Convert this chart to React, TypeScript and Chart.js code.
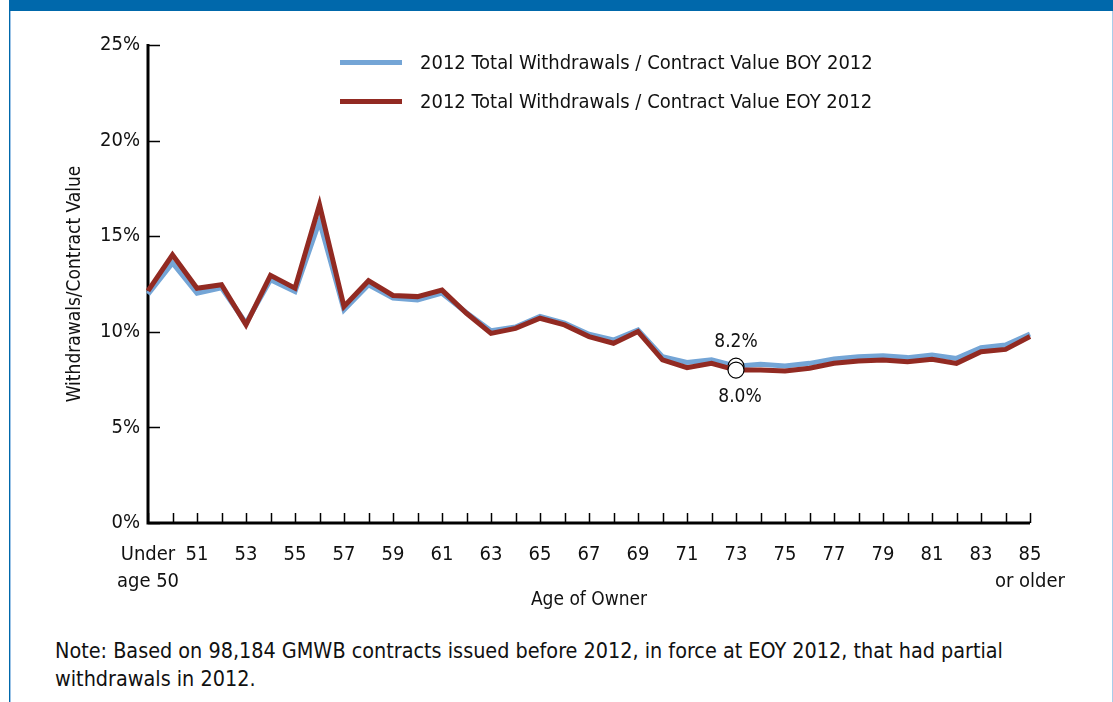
import React, { useEffect, useRef } from "react";
import { Chart, registerables } from "chart.js";
Chart.register(...registerables);

const FONT = "'Liberation Sans Narrow', 'DejaVu Sans Condensed', 'Arial Narrow', sans-serif";

const categories: string[] = [
  "Under age 50", "50", "51", "52", "53", "54", "55", "56", "57", "58", "59", "60",
  "61", "62", "63", "64", "65", "66", "67", "68", "69", "70", "71", "72", "73",
  "74", "75", "76", "77", "78", "79", "80", "81", "82", "83", "84", "85 or older",
];

const boyValues: number[] = [
  11.97, 13.6, 12.02, 12.3, 10.45, 12.72, 12.1, 15.78, 11.15, 12.46, 11.76, 11.67,
  12.02, 11.0, 10.05, 10.25, 10.8, 10.45, 9.87, 9.57, 10.1, 8.7, 8.4, 8.53, 8.2,
  8.3, 8.21, 8.35, 8.58, 8.7, 8.75, 8.65, 8.79, 8.61, 9.17, 9.31, 9.89,
];

const eoyValues: number[] = [
  12.14, 14.03, 12.28, 12.46, 10.36, 12.95, 12.28, 16.65, 11.32, 12.67, 11.9, 11.84,
  12.18, 10.97, 9.92, 10.18, 10.71, 10.36, 9.75, 9.4, 10.01, 8.53, 8.12, 8.35, 8.0,
  8.0, 7.95, 8.09, 8.35, 8.47, 8.53, 8.44, 8.56, 8.35, 8.96, 9.08, 9.75,
];

const yTickValues: number[] = [0, 5, 10, 15, 20, 25];

const seriesNames: string[] = [
  "2012 Total Withdrawals / Contract Value BOY 2012",
  "2012 Total Withdrawals / Contract Value EOY 2012",
];

const highlightIndex = 24; // age 73

const BLUE = "#74a5d6";
const RED = "#922a22";

function tickLabel(i: number): string | string[] {
  if (i % 2 !== 0) return "";
  const c = categories[i];
  if (c === "Under age 50") return ["Under", "age 50"];
  if (c === "85 or older") return ["85", "or older"];
  return c;
}

const decorPlugin = {
  id: "decor",
  beforeDatasetsDraw(chart: any) {
    const { ctx, chartArea, scales } = chart;
    const xs = scales.x;
    const ys = scales.y;
    ctx.save();
    ctx.strokeStyle = "#000";
    ctx.lineWidth = 1.5;
    ctx.beginPath();
    for (const v of yTickValues) {
      const y = Math.round(ys.getPixelForValue(v)) + 0.5;
      ctx.moveTo(chartArea.left, y);
      ctx.lineTo(chartArea.left + 12, y);
    }
    for (let i = 0; i < categories.length; i++) {
      const x = Math.round(xs.getPixelForValue(i)) + 0.5;
      ctx.moveTo(x, chartArea.bottom);
      ctx.lineTo(x, chartArea.bottom - 10);
    }
    ctx.stroke();
    ctx.lineWidth = 3;
    ctx.beginPath();
    ctx.moveTo(chartArea.left, ys.getPixelForValue(25) - 1);
    ctx.lineTo(chartArea.left, chartArea.bottom);
    ctx.lineTo(xs.getPixelForValue(categories.length - 1), chartArea.bottom);
    ctx.stroke();
    ctx.restore();
  },
  afterDatasetsDraw(chart: any) {
    const { ctx, scales } = chart;
    const x = scales.x.getPixelForValue(highlightIndex);
    const yb = scales.y.getPixelForValue(boyValues[highlightIndex]);
    const ye = scales.y.getPixelForValue(eoyValues[highlightIndex]);
    ctx.save();
    ctx.fillStyle = "#111";
    ctx.font = `19px ${FONT}`;
    ctx.textAlign = "center";
    ctx.textBaseline = "middle";
    ctx.fillText(boyValues[highlightIndex].toFixed(1) + "%", x, yb - 24);
    ctx.fillText(eoyValues[highlightIndex].toFixed(1) + "%", x + 4, ye + 27);
    ctx.restore();
  },
};

export default function App() {
  const ref = useRef<HTMLCanvasElement | null>(null);

  useEffect(() => {
    if (!ref.current) return;
    const radius = (i: number) => (i === highlightIndex ? 8 : 0);
    const chart = new Chart(ref.current, {
      type: "line",
      data: {
        labels: categories,
        datasets: [
          {
            label: seriesNames[1],
            data: eoyValues,
            borderColor: RED,
            borderWidth: 5,
            pointRadius: categories.map((_, i) => radius(i)),
            pointBackgroundColor: "#fff",
            pointBorderColor: "#000",
            pointBorderWidth: 1.2,
            tension: 0,
            borderJoinStyle: "miter",
          },
          {
            label: seriesNames[0],
            data: boyValues,
            borderColor: BLUE,
            borderWidth: 5,
            pointRadius: categories.map((_, i) => radius(i)),
            pointBackgroundColor: "#fff",
            pointBorderColor: "#000",
            pointBorderWidth: 1.2,
            tension: 0,
            borderJoinStyle: "miter",
          },
        ],
      },
      options: {
        responsive: false,
        animation: false,
        devicePixelRatio: 1,
        layout: { padding: { top: 45, right: 83, left: 0, bottom: 0 } },
        plugins: {
          legend: { display: false },
          tooltip: { enabled: false },
        },
        scales: {
          x: {
            type: "category",
            offset: false,
            border: { display: false },
            grid: { display: false, drawTicks: false },
            ticks: {
              autoSkip: false,
              maxRotation: 0,
              minRotation: 0,
              padding: 18,
              color: "#111",
              font: { family: FONT, size: 20, lineHeight: 1.35 },
              callback: (_v: any, i: number) => tickLabel(i),
            },
            title: {
              display: true,
              text: "Age of Owner",
              color: "#111",
              font: { family: FONT, size: 19, lineHeight: 1.2 },
              padding: { top: 0, bottom: 9 },
            },
            afterFit: (s: any) => {
              s.height = 97;
            },
          },
          y: {
            min: 0,
            max: 25,
            border: { display: false },
            grid: { display: false, drawTicks: false },
            ticks: {
              stepSize: 5,
              padding: 8,
              color: "#111",
              font: { family: FONT, size: 20 },
              callback: (v: any) => v + "%",
            },
            title: {
              display: true,
              text: "Withdrawals/Contract Value",
              color: "#111",
              font: { family: FONT, size: 19, lineHeight: 1.2 },
              padding: { top: 64, bottom: 0 },
            },
            afterFit: (s: any) => {
              s.width = 148;
            },
          },
        },
      },
      plugins: [decorPlugin],
    } as any);
    return () => chart.destroy();
  }, []);

  return (
    <div
      style={{
        position: "fixed",
        left: 0,
        top: 0,
        width: 1113,
        height: 702,
        background: "#fff",
        overflow: "hidden",
        fontFamily: FONT,
      }}
    >
      <div style={{ position: "absolute", left: 9, top: 0, right: 0, height: 11, background: "#0068ab" }} />
      <div style={{ position: "absolute", left: 9, top: 11, bottom: 0, width: 1, background: "#0068ab" }} />
      <div style={{ position: "absolute", left: 10, top: 11, bottom: 0, width: 1, background: "#9cc3e6" }} />
      <div style={{ position: "absolute", right: 0, top: 11, bottom: 0, width: 1, background: "#a9cdea" }} />
      <canvas
        ref={ref}
        width={1113}
        height={620}
        style={{ position: "absolute", left: 0, top: 0, width: 1113, height: 620 }}
      />
      <div style={{ position: "absolute", left: 340, top: 48, color: "#111", fontSize: 20 }}>
        {[BLUE, RED].map((c, i) => (
          <div key={i} style={{ display: "flex", alignItems: "center", height: 28, marginBottom: 11 }}>
            <span style={{ display: "inline-block", width: 62, height: 5, background: c, marginRight: 18 }} />
            <span>{seriesNames[i]}</span>
          </div>
        ))}
      </div>
      <div
        style={{
          position: "absolute",
          left: 55,
          top: 637,
          width: 1050,
          color: "#111",
          fontSize: 21.4,
          lineHeight: "28px",
        }}
      >
        Note: Based on 98,184 GMWB contracts issued before 2012, in force at EOY 2012, that had partial
        <br />
        withdrawals in 2012.
      </div>
    </div>
  );
}
